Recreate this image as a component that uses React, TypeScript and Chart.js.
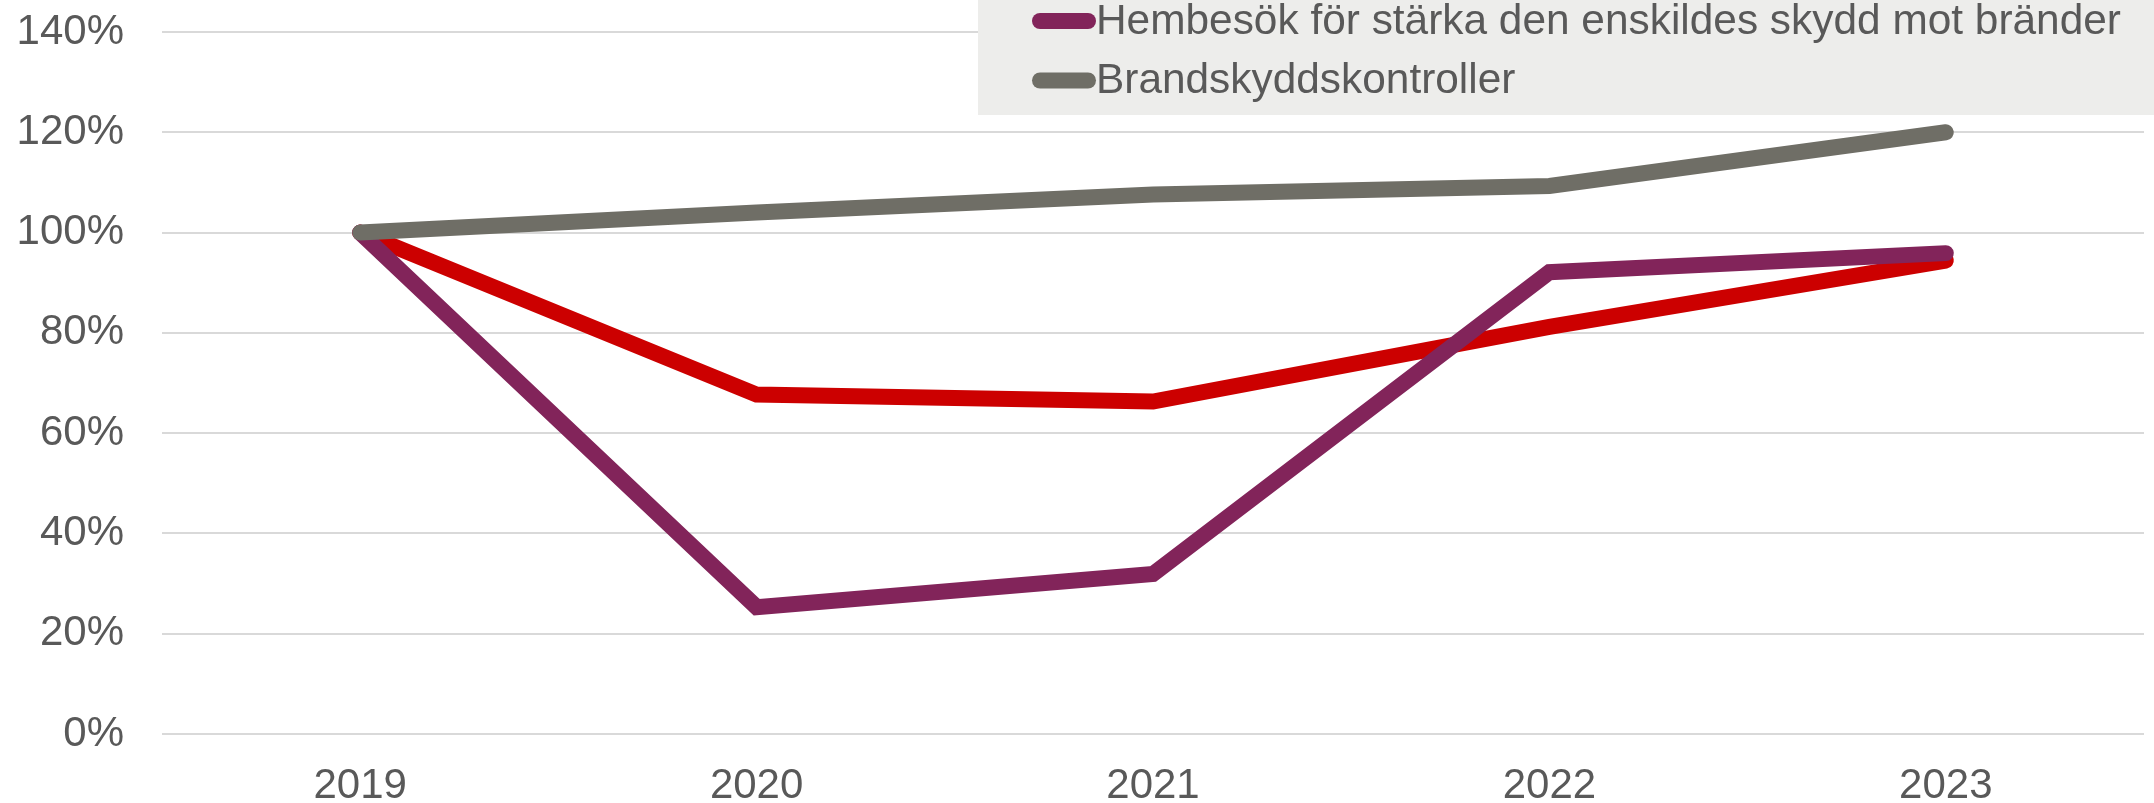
import React, { useEffect, useRef } from "react";
import { Chart, registerables } from "chart.js";

Chart.register(...registerables);

const years = ["2019", "2020", "2021", "2022", "2023"];
const redSeries = [100, 67.7, 66.3, 81.2, 94.4];
const purpleSeries = [100, 25.3, 31.9, 92.1, 95.9];
const graySeries = [100, 104.0, 107.6, 109.3, 120];
const yTicks = [0, 20, 40, 60, 80, 100, 120, 140];

const labelRed = "Räddningsinsatser";
const labelPurple = "Hembesök för stärka den enskildes skydd mot bränder";
const labelGray = "Brandskyddskontroller";

const FONT = "'Liberation Sans', Arial, sans-serif";
const TEXT = "#595959";

const legendPlugin = {
  id: "customLegend",
  afterDraw(chart: any) {
    const ctx = chart.ctx;
    ctx.save();
    ctx.fillStyle = "#EDEDEB";
    ctx.fillRect(978, -10, 2154 - 978 + 10, 125);
    const entries = [
      { ds: chart.data.datasets[1], y: 21 },
      { ds: chart.data.datasets[0], y: 80.5 },
    ];
    ctx.font = `42.4px ${FONT}`;
    ctx.textBaseline = "middle";
    ctx.textAlign = "left";
    for (const e of entries) {
      ctx.strokeStyle = e.ds.borderColor;
      ctx.lineWidth = 16;
      ctx.lineCap = "round";
      ctx.beginPath();
      ctx.moveTo(1040, e.y);
      ctx.lineTo(1088, e.y);
      ctx.stroke();
      ctx.fillStyle = TEXT;
      ctx.fillText(e.ds.label, 1096, e.y + 1);
    }
    ctx.restore();
  },
};

export default function App() {
  const ref = useRef<HTMLCanvasElement>(null);
  useEffect(() => {
    document.body.style.margin = "0";
    const common = {
      borderWidth: 16,
      pointRadius: 0,
      pointHoverRadius: 0,
      borderCapStyle: "round" as const,
      borderJoinStyle: "miter" as const,
      tension: 0,
      fill: false,
    };
    const chart = new Chart(ref.current!, {
      type: "line",
      data: {
        labels: years,
        datasets: [
          { ...common, label: labelGray, data: graySeries, borderColor: "#6F6E66", backgroundColor: "#6F6E66", order: 0 },
          { ...common, label: labelPurple, data: purpleSeries, borderColor: "#82245A", backgroundColor: "#82245A", order: 1 },
          { ...common, label: labelRed, data: redSeries, borderColor: "#CC0000", backgroundColor: "#CC0000", order: 2 },
        ],
      },
      options: {
        animation: false,
        responsive: false,
        devicePixelRatio: 1,
        layout: { padding: { left: 0, right: 10, top: 32, bottom: 0 } },
        plugins: {
          legend: { display: false },
          tooltip: { enabled: false },
        },
        scales: {
          x: {
            offset: true,
            grid: { display: false, drawTicks: false },
            border: { display: false },
            afterFit: (axis: any) => {
              axis.height = 69;
              axis.paddingLeft = 0;
              axis.paddingRight = 0;
            },
            ticks: {
              color: TEXT,
              font: { family: FONT, size: 42, lineHeight: 1 },
              padding: 31,
              maxRotation: 0,
            },
          },
          y: {
            min: 0,
            max: 140,
            afterBuildTicks: (axis: any) => {
              axis.ticks = yTicks.map((v) => ({ value: v }));
            },
            afterFit: (axis: any) => {
              axis.width = 162;
              axis.paddingTop = 0;
              axis.paddingBottom = 0;
            },
            grid: { color: "#D9D9D9", lineWidth: 2, drawTicks: false },
            border: { display: false },
            ticks: {
              color: TEXT,
              font: { family: FONT, size: 42 },
              padding: 38,
              callback: (v: any) => `${v}%`,
            },
          },
        },
      },
      plugins: [legendPlugin],
    });
    return () => chart.destroy();
  }, []);
  return (
    <div style={{ width: 2154, height: 803, position: "relative", overflow: "hidden" }}>
      <canvas ref={ref} width={2154} height={803} style={{ width: 2154, height: 803, display: "block" }} />
    </div>
  );
}
